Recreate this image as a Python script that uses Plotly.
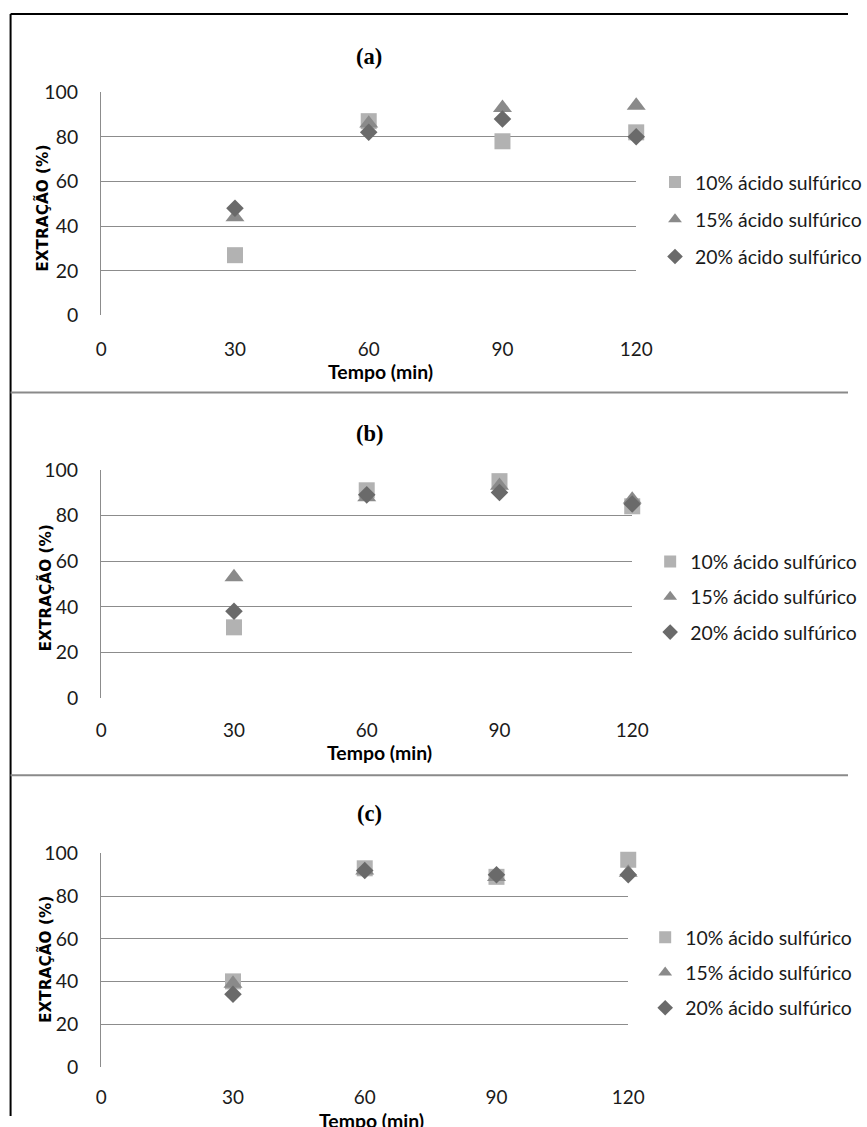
import plotly.graph_objects as go

W, H = 867, 1127

tempo = [30, 60, 90, 120]
x_ticks = [0, 30, 60, 90, 120]
y_ticks = [0, 20, 40, 60, 80, 100]

series_names = ["10% ácido sulfúrico", "15% ácido sulfúrico", "20% ácido sulfúrico"]

# panel (a)
a_10 = [27, 87, 78, 82]
a_15 = [44, 86, 93, 94]
a_20 = [48, 82, 88, 80]
# panel (b)
b_10 = [31, 91, 95, 84]
b_15 = [53, 88, 93, 87]
b_20 = [38, 89, 90, 85]
# panel (c)
c_10 = [40, 93, 89, 97]
c_15 = [39, 92, 89, 91]
c_20 = [34, 92, 90, 90]

panel_titles = ["(a)", "(b)", "(c)"]
x_title = "Tempo (min)"
y_title = "EXTRAÇÃO (%)"

colors = ["#b2b2b2", "#8a8a8a", "#6a6a6a"]
symbols = ["square", "triangle-up", "diamond"]
sizes = [16, 16.5, 13.5]

# the photographed page appears scaled/offset slightly; positions below are
# given in target-picture pixels and mapped back to page pixels
SX, OX = 0.976, 4.4
SY, OY = 0.978, 12.0


def px(x):
    return ((x - OX) / SX) / W


def py(y):
    return 1 - ((y - OY) / SY) / H


def fs(s):
    return s / SY


# plot areas in target pixels: (x0, x1, ytop, ybottom)
areas = [(101, 638, 92, 315), (101, 634, 469, 697), (101, 630, 852, 1065)]
ticklens = [17, 15, 14]
legend_text_x = [698, 693, 688]
legend_mid_y = [219, 596, 971]
legend_gaps = [9, 7, 7]
ytitle_pos = [(42, 208), (45, 587), (45, 958)]
title_y = [56, 433, 812]
xtitle_pos = [(381, 371), (380, 751), (372, 1119)]

data = [(a_10, a_15, a_20), (b_10, b_15, b_20), (c_10, c_15, c_20)]

fig = go.Figure()
layout = dict(
    width=W, height=H, margin=dict(l=0, r=0, t=0, b=0),
    paper_bgcolor="white", plot_bgcolor="white", showlegend=True,
)

font_lbl = "Lato, 'Open Sans', sans-serif"

annotations = []
for i, (area, vals) in enumerate(zip(areas, data)):
    x0, x1, yt, yb = area
    sfx = "" if i == 0 else str(i + 1)
    xa = "x" + sfx
    ya = "y" + sfx
    leg = "legend" + sfx
    for k in range(3):
        fig.add_trace(go.Scatter(
            x=tempo, y=vals[k], mode="markers", name=series_names[k],
            marker=dict(symbol=symbols[k], size=sizes[k], color=colors[k],
                        line=dict(width=0)),
            xaxis=xa, yaxis=ya, legend=leg, legendgroup=f"g{i}{k}",
            cliponaxis=False,
        ))
    layout["xaxis" + sfx] = dict(
        domain=[px(x0), px(x1)], range=[0, 120], tickvals=x_ticks,
        showgrid=False, zeroline=False, showline=False,
        ticks="outside", ticklen=ticklens[i], tickcolor="rgba(0,0,0,0)",
        tickfont=dict(family=font_lbl, size=fs(18.5), color="#1a1a1a"),
        anchor=ya, fixedrange=True,
    )
    layout["yaxis" + sfx] = dict(
        domain=[py(yb), py(yt)], range=[0, 100], tickvals=y_ticks,
        showgrid=True, gridcolor="#8c8c8c", gridwidth=1.4,
        zeroline=False, showline=True, linecolor="#8c8c8c", linewidth=1.4,
        ticks="outside", ticklen=18, tickcolor="rgba(0,0,0,0)",
        tickfont=dict(family=font_lbl, size=fs(19), color="#1a1a1a"),
        anchor=xa, fixedrange=True,
    )
    # plotly puts legend text ~42px right of the legend's left edge
    layout[leg] = dict(
        x=px(legend_text_x[i]) - 42 / W, y=py(legend_mid_y[i]),
        xanchor="left", yanchor="middle",
        font=dict(family=font_lbl, size=fs(19), color="#1a1a1a"),
        tracegroupgap=legend_gaps[i], itemwidth=30, itemsizing="constant",
        bgcolor="rgba(0,0,0,0)",
    )
    annotations.append(dict(
        text="<b>" + panel_titles[i] + "</b>", x=px(370), y=py(title_y[i]),
        xref="paper", yref="paper", showarrow=False,
        xanchor="center", yanchor="middle",
        font=dict(family="Liberation Serif, serif", size=fs(22), color="black"),
    ))
    annotations.append(dict(
        text="<b>" + y_title + "</b>", x=px(ytitle_pos[i][0]), y=py(ytitle_pos[i][1]),
        xref="paper", yref="paper", showarrow=False, textangle=-90,
        xanchor="center", yanchor="middle",
        font=dict(family="DejaVu Sans, sans-serif", size=fs(15), color="black"),
    ))
    annotations.append(dict(
        text="<b>" + x_title + "</b>", x=px(xtitle_pos[i][0]), y=py(xtitle_pos[i][1]),
        xref="paper", yref="paper", showarrow=False,
        xanchor="center", yanchor="middle",
        font=dict(family=font_lbl, size=fs(19), color="black"),
    ))

shapes = [
    dict(type="line", xref="paper", yref="paper", x0=px(10), x1=px(10), y0=py(14), y1=0,
         line=dict(color="black", width=2)),
    dict(type="line", xref="paper", yref="paper", x0=px(10), x1=1, y0=py(14), y1=py(14),
         line=dict(color="black", width=2)),
    dict(type="line", xref="paper", yref="paper", x0=px(10), x1=1, y0=py(392), y1=py(392),
         line=dict(color="#8a8a8a", width=2)),
    dict(type="line", xref="paper", yref="paper", x0=px(10), x1=1, y0=py(774), y1=py(774),
         line=dict(color="#8a8a8a", width=2)),
]

layout["annotations"] = annotations
layout["shapes"] = shapes
fig.update_layout(**layout)
fig.write_html(
    "out.html",
    config={"displayModeBar": False},
    post_script="document.body.style.margin='0';document.body.style.overflow='hidden';",
)
